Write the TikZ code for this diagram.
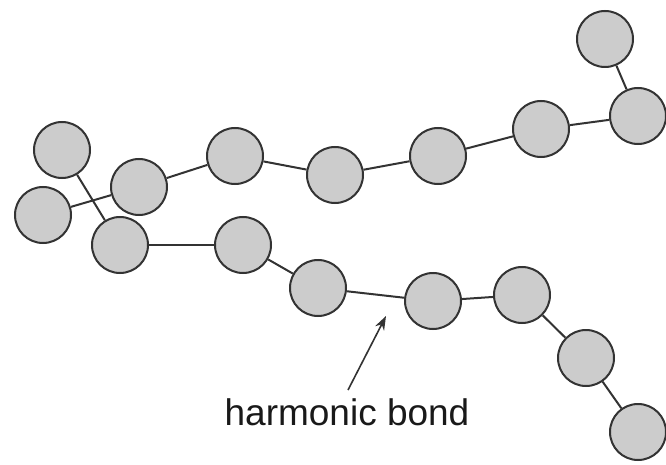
\documentclass[tikz,border=0pt]{standalone}
\usepackage{fontspec}
\setmainfont{Liberation Sans}
\usetikzlibrary{arrows.meta}
\begin{document}
\begin{tikzpicture}[x=1pt,y=-1pt,
  bead/.style={circle,draw=black!80,line width=2pt,fill=black!20,minimum size=56pt,inner sep=0pt},
  bond/.style={draw=black!80,line width=2pt},
  lbl/.style={font=\fontsize{37}{40}\selectfont,text=black!90}]
\useasboundingbox (0,0) rectangle (666,465);
\node[bead] (a1) at (62,150) {};
\node[bead] (a2) at (43,215) {};
\node[bead] (a3) at (139,187) {};
\node[bead] (a4) at (235,156) {};
\node[bead] (a5) at (335,175) {};
\node[bead] (a6) at (438,156) {};
\node[bead] (a7) at (541,129) {};
\node[bead] (a8) at (605,39) {};
\node[bead] (a9) at (638,116) {};
\node[bead] (b1) at (120,245) {};
\node[bead] (b2) at (243,245) {};
\node[bead] (b3) at (318,288) {};
\node[bead] (b4) at (433,301) {};
\node[bead] (b5) at (522,295) {};
\node[bead] (b6) at (586,358) {};
\node[bead] (b7) at (638,432) {};
\draw[bond] (a1) -- (b1);
\draw[bond] (a2) -- (a3);
\draw[bond] (a3) -- (a4);
\draw[bond] (a4) -- (a5);
\draw[bond] (a5) -- (a6);
\draw[bond] (a6) -- (a7);
\draw[bond] (a7) -- (a9);
\draw[bond] (a8) -- (a9);
\draw[bond] (b1) -- (b2);
\draw[bond] (b2) -- (b3);
\draw[bond] (b3) -- (b4);
\draw[bond] (b4) -- (b5);
\draw[bond] (b5) -- (b6);
\draw[bond] (b6) -- (b7);
\node[lbl] (t) at (347,412) {harmonic bond};
\coordinate (tip) at (386,316);
\coordinate (tail) at (348,390);
\draw[bond,line width=1.6pt,-{Stealth[length=14pt,width=10pt]}] (tail) -- (tip);
\end{tikzpicture}
\end{document}
